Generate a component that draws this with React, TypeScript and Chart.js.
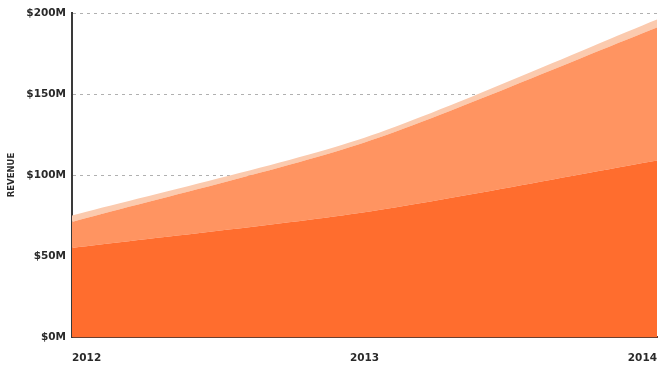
import React, { useEffect, useRef } from "react";
import { Chart, registerables } from "chart.js";

Chart.register(...registerables);

const categories = ["2012", "2013", "2014"];
const baseRevenue = [55, 77, 109];
const midRevenue = [16, 43, 82];
const topRevenue = [4, 3, 5];
const yTicks = [0, 50, 100, 150, 200];

export default function App() {
  const ref = useRef<HTMLCanvasElement | null>(null);
  useEffect(() => {
    document.body.style.margin = "0";
    const font = { family: "DejaVu Sans", weight: "bold" as const, size: 10.5 };
    const chart = new Chart(ref.current!, {
      type: "line",
      data: {
        labels: categories,
        datasets: [
          { data: baseRevenue, backgroundColor: "#ff6d2e", fill: "origin", borderWidth: 0, pointRadius: 0, tension: 0.25 },
          { data: midRevenue, backgroundColor: "#ff9461", fill: "-1", borderWidth: 0, pointRadius: 0, tension: 0.25 },
          { data: topRevenue, backgroundColor: "#fbcaae", fill: "-1", borderWidth: 0, pointRadius: 0, tension: 0.25 },
        ],
      },
      options: {
        animation: false,
        responsive: false,
        layout: { padding: { top: 13, right: 11, left: 0, bottom: 0 } },
        plugins: { legend: { display: false }, tooltip: { enabled: false } },
        scales: {
          x: {
            offset: false,
            grid: { display: false },
            border: { color: "#6b4030", width: 2 },
            ticks: { align: "inner", color: "#2a2a2a", font, padding: 7, maxRotation: 0 },
            afterFit: (s: any) => { s.height = 30; },
          },
          y: {
            stacked: true,
            min: 0,
            max: 200,
            afterBuildTicks: (s: any) => { s.ticks = yTicks.map((v) => ({ value: v })); },
            grid: { color: "#b0b0b0", drawTicks: false, lineWidth: 1 },
            border: { color: "#3a3a3a", width: 2, dash: [3, 4] },
            ticks: { color: "#2a2a2a", font, padding: 6, callback: (v: any) => `$${v}M` },
            title: { display: true, text: "REVENUE", color: "#2a2a2a", font: { family: "DejaVu Sans", weight: "bold", size: 8.5 }, padding: { top: 7, bottom: 0 } },
            afterFit: (s: any) => { s.width = 72; },
          },
        },
      },
    });
    return () => chart.destroy();
  }, []);
  return (
    <div style={{ position: "absolute", left: 0, top: 0, width: 668, height: 367 }}>
      <canvas ref={ref} width={668} height={367} />
    </div>
  );
}
